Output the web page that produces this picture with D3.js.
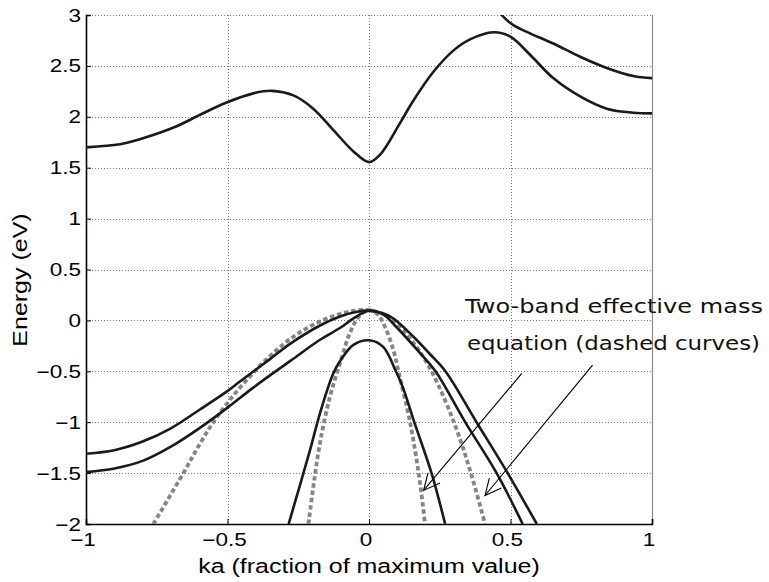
<!DOCTYPE html>
<html>
<head>
<meta charset="utf-8">
<script src="https://cdn.jsdelivr.net/npm/d3@7"></script>
<style>
  html, body { margin: 0; padding: 0; background: #fff; }
  svg { display: block; }
</style>
</head>
<body>
<svg id="chart" width="769" height="582"></svg>
<script>
// ---------- data (ka, Energy eV) ----------
const xTicks = [-1, -0.5, 0, 0.5, 1];
const yTicks = [-2, -1.5, -1, -0.5, 0, 0.5, 1, 1.5, 2, 2.5, 3];
const xLabel = "ka (fraction of maximum value)";
const yLabel = "Energy (eV)";
const noteLines = ["Two-band effective mass", "equation (dashed curves)"];

// conduction bands (solid)
const cond1 = [[-1,1.70],[-0.88,1.73],[-0.81,1.78],[-0.686,1.90],[-0.597,2.02],[-0.503,2.14],[-0.409,2.23],[-0.344,2.255],[-0.267,2.21],[-0.197,2.08],[-0.126,1.87],[-0.055,1.66],[0,1.555],[0.04,1.63],[0.11,1.94],[0.157,2.16],[0.227,2.44],[0.298,2.65],[0.357,2.76],[0.439,2.83],[0.498,2.79],[0.569,2.61],[0.651,2.38],[0.746,2.20],[0.84,2.08],[0.934,2.04],[1,2.034]];
const cond2 = [[0.44,3.12],[0.469,3.0],[0.51,2.90],[0.569,2.82],[0.651,2.72],[0.746,2.59],[0.84,2.48],[0.934,2.40],[1,2.38]];

// valence bands (solid)
const heavyHole = [[-1,-1.31],[-0.9,-1.275],[-0.8,-1.19],[-0.7,-1.06],[-0.6,-0.88],[-0.503,-0.70],[-0.456,-0.6],[-0.35,-0.38],[-0.279,-0.23],[-0.173,-0.05],[-0.1,0.04],[-0.05,0.08],[0,0.095],[0.074,0.04],[0.157,-0.16],[0.215,-0.33],[0.27,-0.5],[0.38,-1.0],[0.49,-1.5],[0.593,-2.0]];
const lightHole = [[-1,-1.49],[-0.9,-1.455],[-0.8,-1.38],[-0.7,-1.24],[-0.6,-1.06],[-0.503,-0.864],[-0.409,-0.66],[-0.279,-0.40],[-0.173,-0.19],[-0.1,-0.07],[-0.055,0.02],[0,0.095],[0.05,0.06],[0.095,-0.06],[0.18,-0.32],[0.235,-0.5],[0.34,-1.0],[0.451,-1.5],[0.543,-2.0]];
const splitOff = [[-0.284,-2.0],[-0.208,-1.27],[-0.173,-0.91],[-0.126,-0.52],[-0.1,-0.39],[-0.055,-0.24],[0,-0.195],[0.05,-0.26],[0.095,-0.5],[0.12,-0.66],[0.16,-1.0],[0.221,-1.5],[0.269,-2.0]];

// two-band effective mass model (dashed)
const twoBandOuter = [[-0.762,-2.0],[-0.656,-1.5],[-0.597,-1.21],[-0.55,-1.0],[-0.497,-0.80],[-0.432,-0.585],[-0.35,-0.35],[-0.267,-0.16],[-0.173,-0.01],[-0.08,0.08],[0,0.1],[0.074,0.03],[0.157,-0.22],[0.221,-0.5],[0.30,-1.0],[0.36,-1.5],[0.41,-2.0]];
const twoBandInner = [[-0.214,-2.0],[-0.195,-1.6],[-0.173,-1.2],[-0.138,-0.75],[-0.1,-0.4],[-0.067,-0.12],[-0.032,0.05],[0,0.1],[0.03,0.06],[0.056,-0.06],[0.086,-0.29],[0.104,-0.5],[0.145,-1.0],[0.178,-1.55],[0.198,-2.0]];

// annotation arrows: [start, tip] in data units
const arrows = [
  [[0.54, -0.52], [0.193, -1.67]],
  [[0.79, -0.44], [0.41, -1.72]]
];

// ---------- layout ----------
const svg = d3.select("#chart");
const M = { left: 86, right: 652, top: 15, bottom: 524 };
const x = d3.scaleLinear().domain([-1, 1]).range([M.left, M.right]);
const y = d3.scaleLinear().domain([-2, 3]).range([M.bottom, M.top]);
const fmt = v => (d3.format("~g")(v)).replace("-", "\u2212");
const SX = 1.25;
const axisFont = "Liberation Sans, Arial, Helvetica, sans-serif";

// grid
const grid = svg.append("g").attr("stroke", "#7a7a7a").attr("stroke-width", 1)
  .attr("stroke-dasharray", "1,2");
grid.selectAll("line.gx").data(xTicks.filter(v => v > -1 && v < 1)).join("line")
  .attr("x1", d => Math.round(x(d)) + 0.5).attr("x2", d => Math.round(x(d)) + 0.5)
  .attr("y1", M.top).attr("y2", M.bottom);
grid.selectAll("line.gy").data(yTicks.filter(v => v > -2)).join("line")
  .attr("y1", d => Math.round(y(d)) + 0.5).attr("y2", d => Math.round(y(d)) + 0.5)
  .attr("x1", M.left).attr("x2", M.right);

// frame
svg.append("line").attr("x1", M.right + 0.5).attr("x2", M.right + 0.5)
  .attr("y1", M.top).attr("y2", M.bottom).attr("stroke", "#888").attr("stroke-width", 1.2);

// axes via d3
const gx = svg.append("g").attr("transform", `translate(0,${M.bottom})`)
  .call(d3.axisBottom(x).tickValues(xTicks).tickSize(-5).tickFormat(""));
const gy = svg.append("g").attr("transform", `translate(${M.left},0)`)
  .call(d3.axisLeft(y).tickValues(yTicks).tickSize(-5).tickFormat(""));
[gx, gy].forEach(g => {
  g.select(".domain").attr("stroke", "#000").attr("stroke-width", 1.6);
  g.selectAll(".tick line").attr("stroke", "#000");
});

// tick labels (stretched like the original)
svg.append("g").selectAll("text").data(xTicks).join("text")
  .attr("transform", d => `translate(${x(d) - 3},546) scale(${SX},1)`)
  .attr("text-anchor", "middle").attr("font-family", axisFont).attr("font-size", 18)
  .text(fmt);
svg.append("g").selectAll("text").data(yTicks).join("text")
  .attr("transform", d => `translate(81,${y(d) + 6.5}) scale(${SX},1)`)
  .attr("text-anchor", "end").attr("font-family", axisFont).attr("font-size", 18)
  .text(fmt);

// axis titles
svg.append("text").attr("transform", `translate(${x(0)},573) scale(1.25,1)`)
  .attr("text-anchor", "middle").attr("font-family", axisFont).attr("font-size", 20)
  .text(xLabel);
svg.append("text").attr("transform", `translate(27,280) rotate(-90) scale(1.25,1)`)
  .attr("text-anchor", "middle").attr("font-family", axisFont).attr("font-size", 20)
  .text(yLabel);

// curves
svg.append("clipPath").attr("id", "plotclip").append("rect")
  .attr("x", M.left).attr("y", M.top).attr("width", M.right - M.left).attr("height", M.bottom - M.top);
const line = d3.line().x(d => x(d[0])).y(d => y(d[1])).curve(d3.curveCatmullRom.alpha(0.5));
const plot = svg.append("g").attr("clip-path", "url(#plotclip)").attr("fill", "none");

[twoBandOuter, twoBandInner].forEach(s => plot.append("path").attr("d", line(s))
  .attr("stroke", "#858585").attr("stroke-width", 3.8).attr("stroke-dasharray", "4.5,2.8"));
[cond1, cond2, heavyHole, lightHole, splitOff].forEach(s => plot.append("path").attr("d", line(s))
  .attr("stroke", "#1a1a1a").attr("stroke-width", 2.6).attr("stroke-linejoin", "round"));

// annotation
const note = svg.append("g").attr("font-family", "DejaVu Sans, sans-serif").attr("font-size", 20).attr("fill", "#111");
note.append("text").attr("x", 465).attr("y", 313).attr("textLength", 298).attr("lengthAdjust", "spacingAndGlyphs").text(noteLines[0]);
note.append("text").attr("x", 467).attr("y", 350).attr("textLength", 293).attr("lengthAdjust", "spacingAndGlyphs").text(noteLines[1]);

const ag = svg.append("g").attr("stroke", "#000").attr("stroke-width", 1.1).attr("fill", "none");
arrows.forEach(([s, t]) => {
  const x0 = x(s[0]), y0 = y(s[1]), x1 = x(t[0]), y1 = y(t[1]);
  ag.append("line").attr("x1", x0).attr("y1", y0).attr("x2", x1).attr("y2", y1);
  const ang = Math.atan2(y0 - y1, x0 - x1);
  const L = 18, w = 0.45;
  const p1 = [x1 + L * Math.cos(ang + w), y1 + L * Math.sin(ang + w)];
  const p2 = [x1 + L * Math.cos(ang - w), y1 + L * Math.sin(ang - w)];
  ag.append("path").attr("d", `M${p1[0]},${p1[1]}L${x1},${y1}L${p2[0]},${p2[1]}`);
});
</script>
</body>
</html>
